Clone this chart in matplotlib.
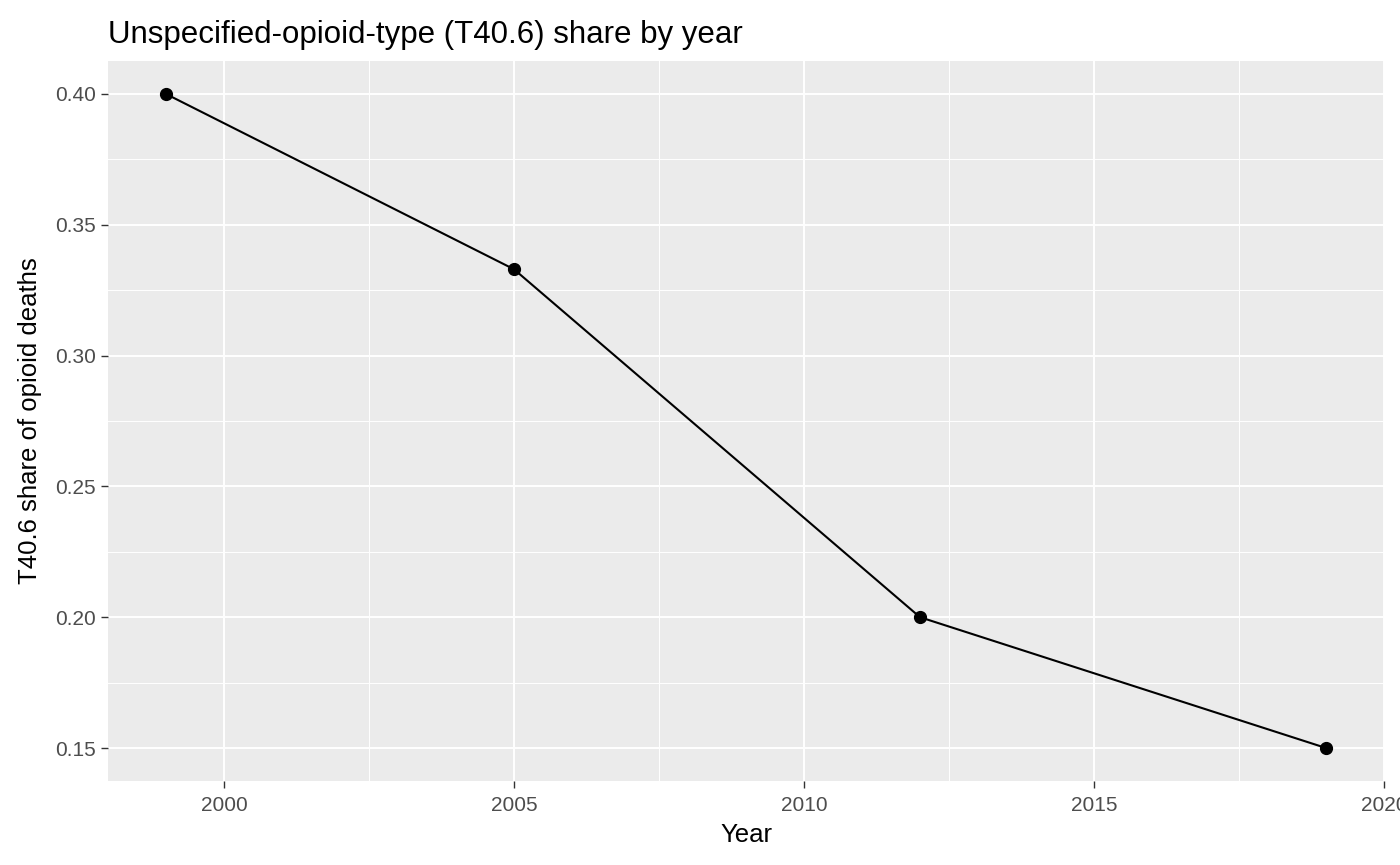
import numpy as np
import matplotlib
matplotlib.use('Agg')
import matplotlib.pyplot as plt
from matplotlib.ticker import MultipleLocator

years = [1999, 2005, 2012, 2019]
share = [0.40, 0.333, 0.20, 0.15]

x_ticks = [2000, 2005, 2010, 2015, 2020]
y_ticks = [0.15, 0.20, 0.25, 0.30, 0.35, 0.40]

plt.rcParams['font.family'] = ['Liberation Sans', 'DejaVu Sans']

fig = plt.figure(figsize=(14, 8.65), dpi=100)
ax = fig.add_axes([108 / 1400, 84.3 / 865, 1276 / 1400, 719.4 / 865])
ax.set_facecolor('#EBEBEB')

ax.plot(years, share, color='black', lw=1.5, marker='o', ms=8.5, zorder=3)

ax.set_xlim(1998, 2020)
ax.set_ylim(0.1375, 0.4125)
ax.set_xticks(x_ticks)
ax.set_yticks(y_ticks)
ax.set_yticklabels(['%.2f' % v for v in y_ticks])
ax.xaxis.set_minor_locator(MultipleLocator(2.5))
ax.yaxis.set_minor_locator(MultipleLocator(0.025))

ax.grid(which='major', color='white', lw=1.4)
ax.grid(which='minor', color='white', lw=0.7)
ax.set_axisbelow(True)
for s in ax.spines.values():
    s.set_visible(False)

ax.tick_params(which='major', length=5, width=1.0, color='#333333',
               labelsize=15, labelcolor='#4D4D4D', pad=4)
ax.tick_params(axis='x', which='major', pad=6)
ax.tick_params(which='minor', length=0)

ax.set_xlabel('Year', fontsize=18.5, labelpad=6)
ax.set_ylabel('T40.6 share of opioid deaths', fontsize=18.5, labelpad=9)
ax.set_title('Unspecified-opioid-type (T40.6) share by year', fontsize=22.5,
             loc='left', pad=13)

fig.savefig('out.png', dpi=100)
